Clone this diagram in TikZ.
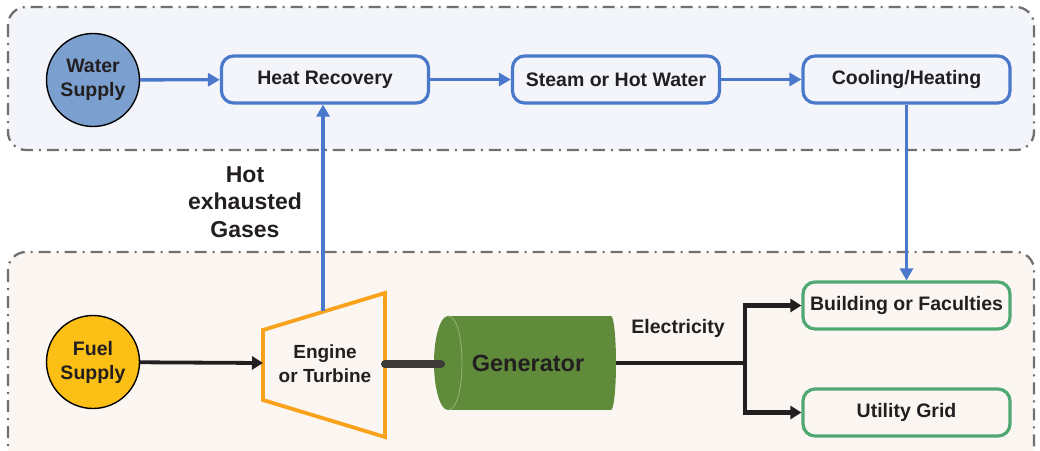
\documentclass[tikz,border=0pt]{standalone}
\usepackage{fontspec}
\setmainfont{Liberation Sans}
\usetikzlibrary{arrows.meta,calc}
\definecolor{zoneA}{HTML}{F3F5FA}
\definecolor{zoneB}{HTML}{FBF6F2}
\definecolor{blueln}{HTML}{4A78CA}
\definecolor{waterfill}{HTML}{7BA0CF}
\definecolor{fuelfill}{HTML}{FBBF16}
\definecolor{engorange}{HTML}{F9A21C}
\definecolor{gengreen}{HTML}{5F8B3B}
\definecolor{genlight}{HTML}{8DB56A}
\definecolor{boxgreen}{HTML}{4FA872}
\definecolor{txt}{HTML}{231F20}
\definecolor{zoneline}{HTML}{707070}
\definecolor{shaftc}{HTML}{3D3B3A}
\begin{document}
\begin{tikzpicture}[x=1pt,y=-1pt,
  font=\bfseries\fontsize{19.5}{24}\selectfont, text=txt,
  zone/.style={draw=zoneline, line width=2.3pt, dash pattern=on 12pt off 6pt on 2pt off 6pt, rounded corners=18pt},
  flowbox/.style={draw=blueln, line width=3.2pt, rounded corners=12pt, minimum width=207pt, minimum height=47pt, inner sep=0pt},
  outbox/.style={flowbox, draw=boxgreen},
  source/.style={circle, draw=black, line width=1.4pt, minimum size=93pt, align=center, inner sep=0pt},
  bflow/.style={draw=blueln, line width=3.3pt, -{Triangle[length=12pt,width=13pt]}},
  kflow/.style={draw=txt, line width=4.2pt, -{Triangle[length=11pt,width=13pt]}},
  kline/.style={draw=txt, line width=4.2pt},
  shaft/.style={draw=shaftc, line width=8pt, line cap=round},
]
\useasboundingbox (0,0) rectangle (1040,450);
\begin{scope}
\clip (0,0) rectangle (1040,450);
% zones
\path[zone, fill=zoneA] (8,7) rectangle (1034,150);
\path[zone, fill=zoneB] (8,252) rectangle (1034,490);
\end{scope}

% top row
\node[source, fill=waterfill] (water) at (93,80) {Water\\Supply};
\node[flowbox] (heat) at (325,79.5) {Heat Recovery};
\node[flowbox] (steam) at (616,79.5) {Steam or Hot Water};
\node[flowbox] (cool) at (906.5,79.5) {Cooling/Heating};

% bottom row
\node[source, fill=fuelfill] (fuel) at (93,362) {Fuel\\Supply};

% engine / turbine
\coordinate (e1) at (263,330);
\coordinate (e2) at (385,293);
\coordinate (e3) at (385,437);
\coordinate (e4) at (263,400);
\draw[engorange, line width=3.8pt, line join=miter] (e1) -- (e2) -- (e3) -- (e4) -- cycle;
\node[align=center, font=\bfseries\fontsize{19}{24}\selectfont] (eng) at (325,364) {Engine\\or Turbine};
\coordinate (engL) at (263,363);
\coordinate (engR) at (385,364);
\coordinate (engT) at (323,311);

% generator
\fill[gengreen] (448,316) rectangle (611,410);
\fill[gengreen] (611,363) ellipse [x radius=5, y radius=47];
\fill[gengreen] (448,363) ellipse [x radius=14, y radius=47];
\draw[genlight, line width=0.9pt] (448,316) .. controls (466.7,316) and (466.7,410) .. (448,410);
\node[minimum width=176pt, minimum height=94pt, inner sep=0pt, font=\bfseries\fontsize{23.5}{28}\selectfont] (gen) at (528,363) {Generator};
\coordinate (shaftEnd) at (441,364);

% outputs
\node[outbox] (build) at (906.5,305.5) {Building or Faculties};
\node[outbox] (grid) at (906.5,412.5) {Utility Grid};
\coordinate (junc) at (745,363);

% labels
\node[align=center, font=\bfseries\fontsize{23}{27.5}\selectfont] (gas) at (245,202) {Hot\\exhausted\\Gases};
\node (elec) at (678,328) {Electricity};

% connectors
\draw[bflow] (water) -- (heat);
\draw[bflow] (heat) -- (steam);
\draw[bflow] (steam) -- (cool);
\draw[bflow] (engT) -- (engT |- heat.south);
\draw[bflow] (cool.south) -- (build.north);
\draw[kflow, line width=3.8pt] (fuel) -- (engL);
\draw[shaft] (engR) -- (shaftEnd);
\draw[kline] (gen.east) -- (junc);
\draw[kflow, line join=miter] (junc) |- (build.west);
\draw[kflow, line join=miter] (junc) |- (grid.west);
\end{tikzpicture}
\end{document}
